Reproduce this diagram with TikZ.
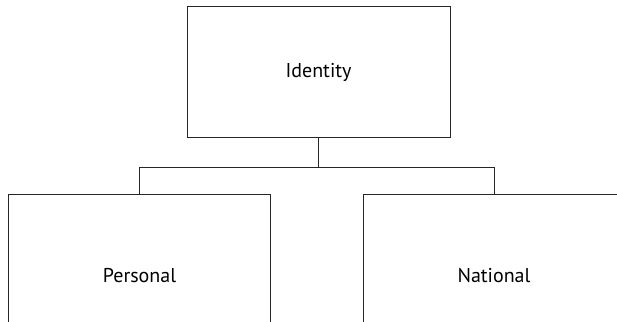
\documentclass[tikz,border=0pt]{standalone}
\usepackage{fontspec}
\setmainfont{PT Sans}
\usetikzlibrary{positioning}
\tikzset{node distance=56pt, % gap between root and leaves
every node/.style={font=\fontsize{20}{24}\selectfont},
rootbox/.style={ % the box on top
draw=black!85,
line width=1pt,
minimum width=263pt,
minimum height=130pt},
leafbox/.style={ % the two boxes below
draw=black!85,
line width=1pt,
minimum width=262pt,
minimum height=163pt},
link/.style={draw=black!85, line width=1pt}}

\begin{document}
\begin{tikzpicture}
				\useasboundingbox (0,0) rectangle (617pt,-321pt);
				\clip (0,0) rectangle (617pt,-321pt);
				\node[rootbox] (identity) at (318.5pt,-72pt) {Identity};
				\node[leafbox, below left=56pt and 47.5pt of identity.south] (personal) {Personal};
				\node[leafbox, below right=56pt and 44pt of identity.south] (national) {National};

				\draw[link] (identity.south) -- ++(0,-30pt) coordinate (bus);
				\draw[link] (bus) -| (personal.north);
				\draw[link] (bus) -| (national.north);
			\end{tikzpicture}
\end{document}
